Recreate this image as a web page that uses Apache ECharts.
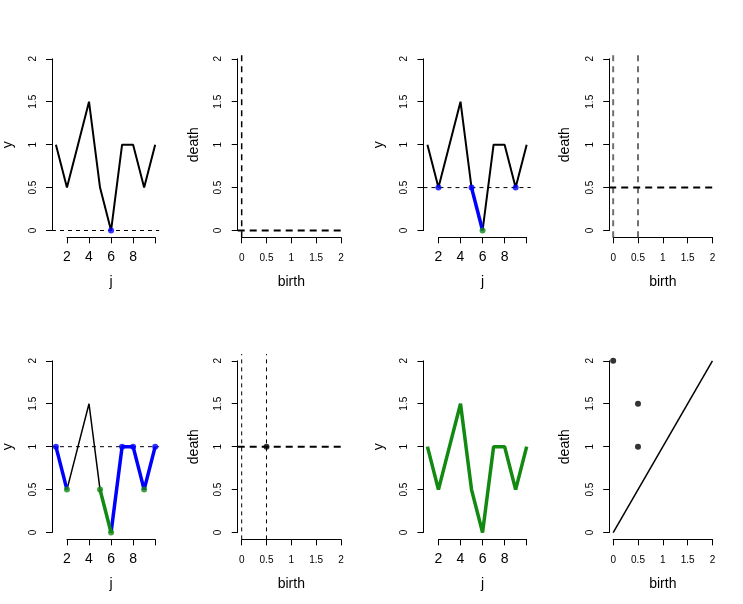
<!DOCTYPE html>
<html>
<head>
<meta charset="utf-8">
<script src="https://cdn.jsdelivr.net/npm/echarts@6/dist/echarts.min.js"></script>
<style>
  html, body { margin: 0; padding: 0; background: #fff; }
  #chart { width: 743px; height: 604px; }
</style>
</head>
<body>
<div id="chart"></div>
<script>
// series data
const j = [1, 2, 3, 4, 5, 6, 7, 8, 9, 10];
const y = [1, 0.5, 1, 1.5, 0.5, 0, 1, 1, 0.5, 1];

// tick labels
const jTicks = [2, 4, 6, 8, 10];
const jTickLabels = ['2', '4', '6', '8', ''];
const valTicks = [0, 0.5, 1, 1.5, 2];
const valTickLabels = ['0', '0.5', '1', '1.5', '2'];

// threshold level of each step
const levels = [0, 0.5, 1];

// sub-level pieces (indices are j values)
const bluePts1 = [6];
const blueSegs3 = [[5, 6]];
const bluePts3 = [2, 5, 9];
const greenPts3 = [6];
const blueSegs5 = [[1, 2], [6, 10]];
const greenSegs5 = [[5, 6]];
const bluePts5 = [1, 7, 8, 10];
const greenPts5 = [2, 5, 6, 9];

// persistence diagram pieces
const births2 = [0];
const births4 = [0, 0.5];
const births6 = [0, 0.5];
const diagram6 = [[0.5, 1]];
const diagram8 = [[0, 2], [0.5, 1.5], [0.5, 1]];
const diagonal = [[0, 0], [2, 2]];

const BLUE = '#0000ff';
const GREEN = '#128a12';
const FONT = 'Liberation Sans';

// R layout: mfrow = c(2, 4), mar = c(5.1, 4.1, 4.1, 2.1)
const W = 743, H = 604;
const figW = W / 4, figH = H / 2, L = 12.672;

function pick(idx) { return idx.map(k => [j[k - 1], y[k - 1]]); }
function seg(a, b) { return j.slice(a - 1, b).map((v, i) => [v, y[a - 1 + i]]); }
function ext(lo, hi) { const d = (hi - lo) * 0.04; return [lo - d, hi + d]; }

const grid = [], xAxis = [], yAxis = [], series = [];

function addPanel(p, kind) {
  const c = p % 4, r = Math.floor(p / 4);
  const left = c * figW + 4.1 * L, top = r * figH + 4.1 * L;
  const w = figW - 6.2 * L, h = figH - 9.2 * L;
  const xr = kind === 'j' ? ext(1, 10) : ext(0, 2);
  const yr = ext(0, 2);
  const px = v => left + (v - xr[0]) / (xr[1] - xr[0]) * w;
  const py = v => top + h - (v - yr[0]) / (yr[1] - yr[0]) * h;
  const xt = kind === 'j' ? jTicks : valTicks;
  const xl = kind === 'j' ? jTickLabels : valTickLabels;

  // plotting region
  const gi = grid.length;
  grid.push({ left: left, top: top, width: w, height: h, containLabel: false, outerBoundsMode: 'none' });
  xAxis.push({ gridIndex: gi, type: 'value', min: xr[0], max: xr[1], show: false });
  yAxis.push({ gridIndex: gi, type: 'value', min: yr[0], max: yr[1], show: false });

  // axes, spanning first to last tick like R
  const ai = grid.length;
  const gl = px(xt[0]), gr = px(xt[xt.length - 1]);
  grid.push({
    left: gl, top: py(2), width: gr - gl, height: py(0) - py(2),
    containLabel: false, outerBoundsMode: 'none'
  });
  const lineStyle = { color: '#000', width: 1 };
  xAxis.push({
    gridIndex: ai, type: 'value', min: xt[0], max: xt[xt.length - 1],
    interval: xt[1] - xt[0], offset: top + h - py(0),
    axisLine: { show: true, onZero: false, lineStyle: lineStyle },
    axisTick: { show: true, length: 6, lineStyle: lineStyle },
    splitLine: { show: false },
    axisLabel: {
      show: true, color: '#000', fontFamily: FONT,
      fontSize: kind === 'j' ? 14 : 10, margin: kind === 'j' ? 13 : 16,
      showMinLabel: true, showMaxLabel: true,
      formatter: v => xl[xt.indexOf(v)] ?? ''
    },
    name: kind === 'j' ? 'j' : 'birth', nameLocation: 'middle', nameGap: 38,
    nameTextStyle: { color: '#000', fontFamily: FONT, fontSize: 14 }
  });
  yAxis.push({
    gridIndex: ai, type: 'value', min: 0, max: 2, interval: 0.5,
    offset: gl - left,
    axisLine: { show: true, onZero: false, lineStyle: lineStyle },
    axisTick: { show: true, length: 6, lineStyle: lineStyle },
    splitLine: { show: false },
    axisLabel: {
      show: true, color: '#000', fontFamily: FONT, fontSize: 10, rotate: 90, margin: 14,
      showMinLabel: true, showMaxLabel: true,
      formatter: v => valTickLabels[valTicks.indexOf(v)] ?? ''
    },
    name: kind === 'j' ? 'y' : 'death', nameLocation: 'middle', nameGap: 37, nameRotate: 90,
    nameTextStyle: { color: '#000', fontFamily: FONT, fontSize: 14 }
  });
  return { gi: gi, xr: xr, yr: yr };
}

function line(gi, data, color, width, z, dash) {
  series.push({
    type: 'line', xAxisIndex: gi, yAxisIndex: gi, data: data, showSymbol: false,
    silent: true, animation: false, z: z,
    lineStyle: { color: color, width: width, type: dash || 'solid', cap: 'butt' }
  });
}
function dots(gi, data, color, z) {
  series.push({
    type: 'scatter', xAxisIndex: gi, yAxisIndex: gi, data: data, symbolSize: 6,
    silent: true, animation: false, z: z, itemStyle: { color: color }
  });
}
function hline(P, v, width, dash) { line(P.gi, [[P.xr[0], v], [P.xr[1], v]], '#000', width, 2, dash); }
function vline(P, v, width, dash, color) { line(P.gi, [[v, P.yr[0]], [v, P.yr[1]]], color || '#000', width, 2, dash); }

const full = j.map((v, i) => [v, y[i]]);

// step 1
let P = addPanel(0, 'j');
line(P.gi, full, '#000', 2, 3);
hline(P, levels[0], 1, [4, 4]);
dots(P.gi, pick(bluePts1), BLUE, 5);

P = addPanel(1, 'pd');
births2.forEach(b => vline(P, b, 1.5, [6, 5]));
hline(P, levels[0], 2, [7, 5]);

// step 2
P = addPanel(2, 'j');
line(P.gi, full, '#000', 2, 3);
hline(P, levels[1], 1, [4, 4]);
blueSegs3.forEach(s => line(P.gi, seg(s[0], s[1]), BLUE, 3.5, 4));
dots(P.gi, pick(bluePts3), BLUE, 5);
dots(P.gi, pick(greenPts3), GREEN, 5);

P = addPanel(3, 'pd');
births4.forEach(b => vline(P, b, 2, [6, 5], '#707070'));
hline(P, levels[1], 2, [7, 5]);

// step 3
P = addPanel(4, 'j');
line(P.gi, full, '#000', 1.5, 3);
hline(P, levels[2], 1, [4, 4]);
blueSegs5.forEach(s => line(P.gi, seg(s[0], s[1]), BLUE, 3.5, 4));
greenSegs5.forEach(s => line(P.gi, seg(s[0], s[1]), GREEN, 3.5, 4));
dots(P.gi, pick(bluePts5), BLUE, 5);
dots(P.gi, pick(greenPts5), GREEN, 5);

P = addPanel(5, 'pd');
births6.forEach(b => vline(P, b, 1, [4, 4]));
hline(P, levels[2], 2, [7, 5]);
dots(P.gi, diagram6, '#000', 5);

// final
P = addPanel(6, 'j');
line(P.gi, full, GREEN, 3.5, 3);

P = addPanel(7, 'pd');
line(P.gi, diagonal, '#000', 1.5, 3);
dots(P.gi, diagram8, '#000', 5);

const chart = echarts.init(document.getElementById('chart'), null, { renderer: 'canvas' });
chart.setOption({
  backgroundColor: '#fff',
  animation: false,
  grid: grid,
  xAxis: xAxis,
  yAxis: yAxis,
  series: series
});
window.addEventListener('resize', chart.resize);
</script>
</body>
</html>
